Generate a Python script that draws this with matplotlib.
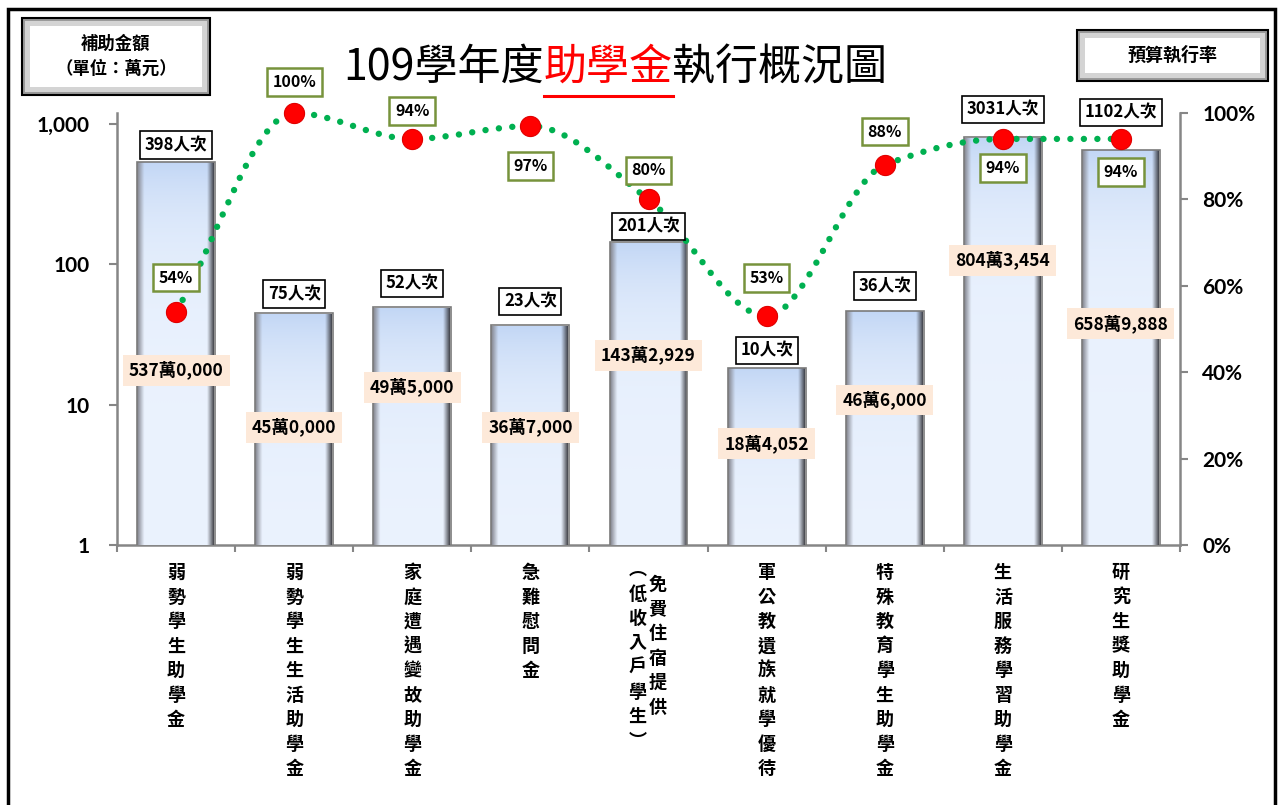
"""109學年度助學金執行概況圖 — bars (log, 萬元) + execution rate line."""
import numpy as np
import matplotlib
matplotlib.use("Agg")
import matplotlib.pyplot as plt
from matplotlib.patches import Rectangle, PathPatch
from matplotlib.path import Path

plt.rcParams['font.family'] = ['Noto Sans CJK TC', 'DejaVu Sans']

categories = ['弱勢學生助學金', '弱勢學生生活助學金', '家庭遭遇變故助學金', '急難慰問金',
              '免費住宿提供（低收入戶學生）', '軍公教遺族就學優待', '特殊教育學生助學金',
              '生活服務學習助學金', '研究生獎助學金']
amounts_yuan = [5370000, 450000, 495000, 367000, 1432929, 184052, 466000, 8043454, 6589888]
counts = [398, 75, 52, 23, 201, 10, 36, 3031, 1102]
rates = [54, 100, 94, 97, 80, 53, 88, 94, 94]

# label placement
count_offsets_px = [17, 19, 24, 24, 16, 17, 25, 28, 37]
rate_offsets_px = [34, 31, 28, -40, 29, 38, 33, -29, -33]
amount_label_y = [17.6, 6.9, 13.3, 6.9, 22.5, 5.3, 10.8, 107, 38]

W, H = 1281, 805
GREY = '#868686'
TICKFONT = dict(family=['Lato', 'DejaVu Sans'], weight='bold', size=15)


def fx(px):
    return px / W


def fy(py):
    return 1 - py / H


fig = plt.figure(figsize=(W / 100, H / 100), dpi=100)
fig.patch.set_facecolor('white')

# outer frame
fig.add_artist(Rectangle((fx(8), fy(830)), fx(1275) - fx(8), fy(9) - fy(830),
                         transform=fig.transFigure, fill=False, ec='black', lw=2.5))

ax = fig.add_axes([fx(117), fy(545), fx(1180) - fx(117), fy(113) - fy(545)])
ax.set_yscale('log')
x = np.arange(len(categories))
amounts_wan = [a / 10000 for a in amounts_yuan]

bars = ax.bar(x, amounts_wan, width=0.66, facecolor='none', edgecolor='#7a7a7a',
              lw=1.2, zorder=4)

# bar fill: blue vertical gradient with bevelled grey sides
nr, nc = 60, 60
t = np.linspace(0, 1, nr)[:, None, None]
top_c = np.array([0.76, 0.84, 0.96])
bot_c = np.array([0.92, 0.95, 0.995])
img = top_c * (1 - t) + bot_c * t
img = np.repeat(img, nc, axis=1)
cols = np.linspace(0, 1, nc)
wl = np.clip(1 - cols / 0.08, 0, 1)[None, :, None]
wr = np.clip((cols - 0.9) / 0.1, 0, 1)[None, :, None]
img = img * (1 - wl) + np.array([0.55, 0.56, 0.6]) * wl
img = img * (1 - wr) + np.array([0.18, 0.18, 0.2]) * wr
for b in bars:
    im = ax.imshow(img, extent=(b.get_x(), b.get_x() + b.get_width(), 1, b.get_height()),
                   aspect='auto', origin='upper', zorder=3, interpolation='bilinear')
    im.set_clip_path(b)

ax.set_xlim(-0.5, len(categories) - 0.5)
ax.set_ylim(1, 1200)
ax.set_yticks([1, 10, 100, 1000])
ax.set_yticklabels(['1', '10', '100', '1,000'], **TICKFONT)
ax.yaxis.set_minor_locator(matplotlib.ticker.NullLocator())
ax.set_xticks(np.arange(len(categories) + 1) - 0.5)
ax.set_xticklabels([])
ax.tick_params(axis='y', direction='out', length=6, width=1.5, color=GREY, pad=14)
ax.tick_params(axis='x', direction='out', length=5, width=1.5, color=GREY)
for s in ['top', 'right']:
    ax.spines[s].set_visible(False)
for s in ['left', 'bottom']:
    ax.spines[s].set_color(GREY)
    ax.spines[s].set_linewidth(1.8)

# category labels, one character per row
step = 24.5
for i, name in enumerate(categories):
    if '（' in name:
        main, sub = name.split('（')
        columns = [(main, 9, 575), ('︵' + sub.rstrip('）') + '︶', -11, 560)]
    else:
        columns = [(name, 0, 563)]
    for text, dx, top in columns:
        for k, ch in enumerate(text):
            ax.annotate(ch, xy=(x[i], H - top - k * step), xycoords=('data', 'figure pixels'),
                        xytext=(dx * 0.72, 0), textcoords='offset points',
                        ha='center', va='top', fontsize=13, weight='bold', annotation_clip=False)

# execution rate on secondary axis
ax2 = ax.twinx()
ax2.set_ylim(0, 1)
ax2.set_yticks([0, 0.2, 0.4, 0.6, 0.8, 1.0])
ax2.set_yticklabels([f'{v}%' for v in range(0, 101, 20)], **TICKFONT)
ax2.tick_params(axis='y', direction='out', length=6, width=1.5, color=GREY, pad=10)
for s in ['top', 'left', 'bottom']:
    ax2.spines[s].set_visible(False)
ax2.spines['right'].set_color(GREY)
ax2.spines['right'].set_linewidth(1.8)

# smoothed line: monotone cubic bezier through the points
yr = np.array(rates) / 100
d = np.diff(yr)
m = np.zeros_like(yr)
m[0], m[-1] = d[0], d[-1]
for i in range(1, len(yr) - 1):
    if d[i - 1] * d[i] > 0:
        m[i] = 2 / (1 / d[i - 1] + 1 / d[i])
verts = [(x[0], yr[0])]
codes = [Path.MOVETO]
for i in range(len(yr) - 1):
    verts += [(x[i] + 1 / 3, yr[i] + m[i] / 3), (x[i + 1] - 1 / 3, yr[i + 1] - m[i + 1] / 3),
              (x[i + 1], yr[i + 1])]
    codes += [Path.CURVE4] * 3
ax2.add_patch(PathPatch(Path(verts, codes), fc='none', ec='#00b050', lw=4.6,
                        linestyle=(0, (0.01, 2.1)), capstyle='round', zorder=3, clip_on=False))
ax2.plot(x, yr, 'o', color='#ff0000', markersize=14.5, zorder=4,
         markeredgecolor='#e00000', markeredgewidth=0.8, clip_on=False)

# count labels above bars, amount labels inside bars (drawn over the rate line)
for i, b in enumerate(bars):
    ax2.annotate(f'{counts[i]}人次', xy=(x[i], b.get_height()), xycoords=ax.transData,
                 xytext=(0, count_offsets_px[i] * 0.72), textcoords='offset points',
                 ha='center', va='center', fontsize=12, weight='bold', zorder=6,
                 bbox=dict(boxstyle='square,pad=0.28', fc='white', ec='black', lw=1.2))
    a = amounts_yuan[i]
    ax2.annotate(f'{a // 10000}萬{a % 10000:05,}', xy=(x[i], amount_label_y[i]), xycoords=ax.transData,
                 ha='center', va='center', fontsize=12.5, weight='bold', zorder=6,
                 bbox=dict(boxstyle='square,pad=0.35', fc='#fde9d9', ec='none'))

for i, r in enumerate(rates):
    ax2.annotate(f'{r}%', xy=(x[i], r / 100), xytext=(0, rate_offsets_px[i] * 0.72),
                 textcoords='offset points', ha='center', va='center', fontsize=11.5,
                 weight='bold', zorder=6,
                 bbox=dict(boxstyle='square,pad=0.35', fc='white', ec='#77933c', lw=1.8))


# bevelled caption boxes
def caption_box(x0, y0, x1, y1, lines, size):
    fig.add_artist(Rectangle((fx(x0), fy(y1)), fx(x1) - fx(x0), fy(y0) - fy(y1),
                             transform=fig.transFigure, fc='#9a9a9a', ec='black', lw=1.5))
    fig.add_artist(Rectangle((fx(x0 + 3), fy(y1 - 3)), fx(x1 - 3) - fx(x0 + 3), fy(y0 + 3) - fy(y1 - 3),
                             transform=fig.transFigure, fc='#d4d4d4', ec='none'))
    fig.add_artist(Rectangle((fx(x0 + 8), fy(y1 - 8)), fx(x1 - 8) - fx(x0 + 8), fy(y0 + 8) - fy(y1 - 8),
                             transform=fig.transFigure, fc='white', ec='none'))
    fig.text(fx((x0 + x1) / 2), fy((y0 + y1) / 2), lines, ha='center', va='center',
             fontsize=size, weight='bold', linespacing=1.45)


caption_box(22, 18, 210, 95, '補助金額\n（單位：萬元）', 12.5)
caption_box(1077, 30, 1268, 81, '預算執行率', 13)

# title with red highlighted part
t2 = fig.text(fx(608), fy(68), '助學金', color='#ff0000', fontsize=31, ha='center', va='center')
t1 = plt.annotate('109學年度', xy=(0, 0), xycoords=t2, ha='right', va='bottom', fontsize=31,
                  annotation_clip=False)
t3 = plt.annotate('執行概況圖', xy=(1, 0), xycoords=t2, ha='left', va='bottom', fontsize=31,
                  annotation_clip=False)
fig.canvas.draw()
bb = t2.get_window_extent()
fig.add_artist(plt.Line2D([bb.x0 / W, bb.x1 / W], [fy(96), fy(96)], transform=fig.transFigure,
                          color='#ff0000', lw=2.2))

fig.savefig('out.png', dpi=100)
